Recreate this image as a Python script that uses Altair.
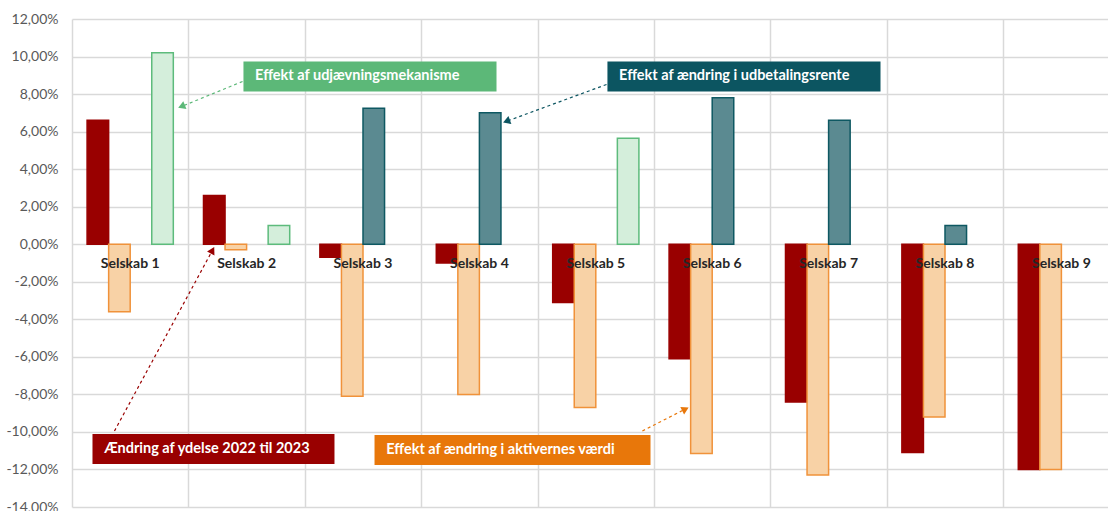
import math
import altair as alt
import pandas as pd

# --- data -------------------------------------------------------------
selskaber = [f"Selskab {i}" for i in range(1, 10)]

ydelse = [6.6, 2.6, -0.7, -1.0, -3.1, -6.1, -8.4, -11.1, -12.0]
aktiver = [-3.6, -0.3, -8.1, -8.0, -8.7, -11.15, -12.3, -9.2, -12.0]
udbetalingsrente = [None, None, 7.25, 7.0, None, 7.8, 6.6, 1.0, None]
udjaevning = [10.2, 1.0, None, None, 5.65, None, None, None, None]

serier = ["ydelse", "aktiver", "udbetalingsrente", "udjaevning"]
fills = ["#990000", "#F8D2A6", "#5B8A91", "#D4EEDB"]
strokes = ["#990000", "#F0923A", "#0E5862", "#5DBB7C"]

y_ticks = list(range(-14, 13, 2))

# annotation boxes: x in category units (0 = left edge of Selskab 1), y in percent
ann_text = [
    "Effekt af udjævningsmekanisme",
    "Effekt af ændring i udbetalingsrente",
    "Ændring af ydelse 2022 til 2023",
    "Effekt af ændring i aktivernes værdi",
]
ann_color = ["#5CB878", "#0C5561", "#990000", "#E8770A"]
ann_x0 = [1.473, 4.600, 0.176, 2.599]
ann_x1 = [3.647, 6.946, 2.255, 4.970]
ann_ytop = [9.74, 9.74, -10.11, -10.16]
ann_ybot = [8.14, 8.14, -11.71, -11.76]
# arrow from (ax0, ay0) to the tip (ax1, ay1)
arr_x0 = [1.465, 4.592, 0.365, 4.900]
arr_y0 = [8.67, 8.51, -9.95, -9.95]
arr_x1 = [0.941, 3.733, 1.207, 5.270]
arr_y1 = [7.34, 6.55, -0.32, -8.78]

# --- geometry of the plot area -----------------------------------------
W, H = 1036, 488
X_RANGE = 1047.6          # 9 category bands, last one runs past the right edge
Y_MIN, Y_MAX = -14, 12
PX_X = X_RANGE / 9
PX_Y = H / (Y_MAX - Y_MIN)

# --- tables -------------------------------------------------------------
rows = []
for serie, vals in zip(serier, [ydelse, aktiver, udbetalingsrente, udjaevning]):
    for s, v in zip(selskaber, vals):
        if v is not None:
            rows.append({"selskab": s, "serie": serie, "v": v})
bars_df = pd.DataFrame(rows)

cat_df = pd.DataFrame({"selskab": selskaber})

ann_df = pd.DataFrame({
    "text": ann_text, "color": ann_color,
    "x0": ann_x0, "x1": ann_x1, "ytop": ann_ytop, "ybot": ann_ybot,
    "tx": [a + 0.10 for a in ann_x0],
    "ty": [(a + b) / 2 for a, b in zip(ann_ytop, ann_ybot)],
})


def heading(x0, y0, x1, y1):
    dx = (x1 - x0) * PX_X
    dy = -(y1 - y0) * PX_Y
    return math.degrees(math.atan2(dx, -dy)) % 360


arr_df = pd.DataFrame({
    "color": ann_color,
    "x0": arr_x0, "y0": arr_y0, "x1": arr_x1, "y1": arr_y1,
    "ang": [heading(a, b, c, d) for a, b, c, d in zip(arr_x0, arr_y0, arr_x1, arr_y1)],
})

FONT = "Lato"

# --- shared scales and axes ----------------------------------------------
x_band = alt.X(
    "selskab:N", sort=selskaber, title=None,
    scale=alt.Scale(domain=selskaber, range=[0, X_RANGE], paddingInner=0, paddingOuter=0),
    axis=alt.Axis(labels=False, ticks=False, domain=False, grid=True, tickBand="extent",
                  gridColor="#D9D9D9", gridWidth=1.5),
)
y_scale = alt.Scale(domain=[Y_MIN, Y_MAX], nice=False, zero=False)
y_axis = alt.Axis(
    values=y_ticks, ticks=False, domain=False, grid=True, title=None,
    gridColor="#D9D9D9", gridWidth=1.5,
    labelFont=FONT, labelFontSize=14, labelColor="#595959",
    labelPadding=14, labelOverlap=False, labelBound=False, labelFlush=False,
    labelExpr="replace(replace(format(datum.value, '.2f'), '.', ','), '\u2212', '-') + '%'",
)
x_ann = alt.Scale(domain=[0, 9], range=[0, X_RANGE])


def ypos(field):
    return alt.Y(field, scale=y_scale, axis=y_axis, title=None)


# --- bars ---------------------------------------------------------------
bars = alt.Chart(bars_df).mark_bar(strokeWidth=1.5).encode(
    x=x_band,
    xOffset=alt.XOffset("serie:N", sort=serier,
                        scale=alt.Scale(domain=serier, paddingInner=0, paddingOuter=0.7)),
    y=ypos("v:Q"),
    fill=alt.Fill("serie:N", scale=alt.Scale(domain=serier, range=fills), legend=None),
    stroke=alt.Stroke("serie:N", scale=alt.Scale(domain=serier, range=strokes), legend=None),
)

labels = alt.Chart(cat_df).mark_text(
    font=FONT, fontSize=14, fontWeight="bold", color="#262626", dy=20
).encode(
    x=alt.X("selskab:N", sort=selskaber),
    y=alt.Y(datum=0, scale=y_scale, axis=y_axis, title=None),
    text="selskab:N",
)

# --- annotations ----------------------------------------------------------
boxes = alt.Chart(ann_df).mark_rect().encode(
    x=alt.X("x0:Q", scale=x_ann, axis=None),
    x2="x1:Q",
    y=ypos("ytop:Q"),
    y2="ybot:Q",
    fill=alt.Fill("color:N", scale=None),
)

box_text = alt.Chart(ann_df).mark_text(
    font=FONT, fontSize=14.5, fontWeight="bold", color="white", align="left", baseline="middle"
).encode(
    x=alt.X("tx:Q", scale=x_ann, axis=None),
    y=ypos("ty:Q"),
    text="text:N",
)

arrows = alt.Chart(arr_df).mark_rule(strokeDash=[3, 3], strokeWidth=1.2).encode(
    x=alt.X("x0:Q", scale=x_ann, axis=None),
    y=ypos("y0:Q"),
    x2="x1:Q",
    y2="y1:Q",
    color=alt.Color("color:N", scale=None),
)

heads = alt.Chart(arr_df).mark_point(shape="triangle-up", filled=True, size=70, opacity=1).encode(
    x=alt.X("x1:Q", scale=x_ann, axis=None),
    y=ypos("y1:Q"),
    angle=alt.Angle("ang:Q", scale=None),
    color=alt.Color("color:N", scale=None),
)

chart = alt.layer(
    alt.layer(bars, labels),
    alt.layer(arrows, heads, boxes, box_text),
).resolve_scale(x="independent").properties(
    width=W, height=H,
    autosize=alt.AutoSizeParams(type="none"),
    padding={"left": 72, "top": 19, "right": 0, "bottom": 4},
    background="white",
).configure_view(strokeWidth=0).configure_axisY(labelOverlap=False)

chart.save("out.html", embed_options={"renderer": "svg", "actions": False})
